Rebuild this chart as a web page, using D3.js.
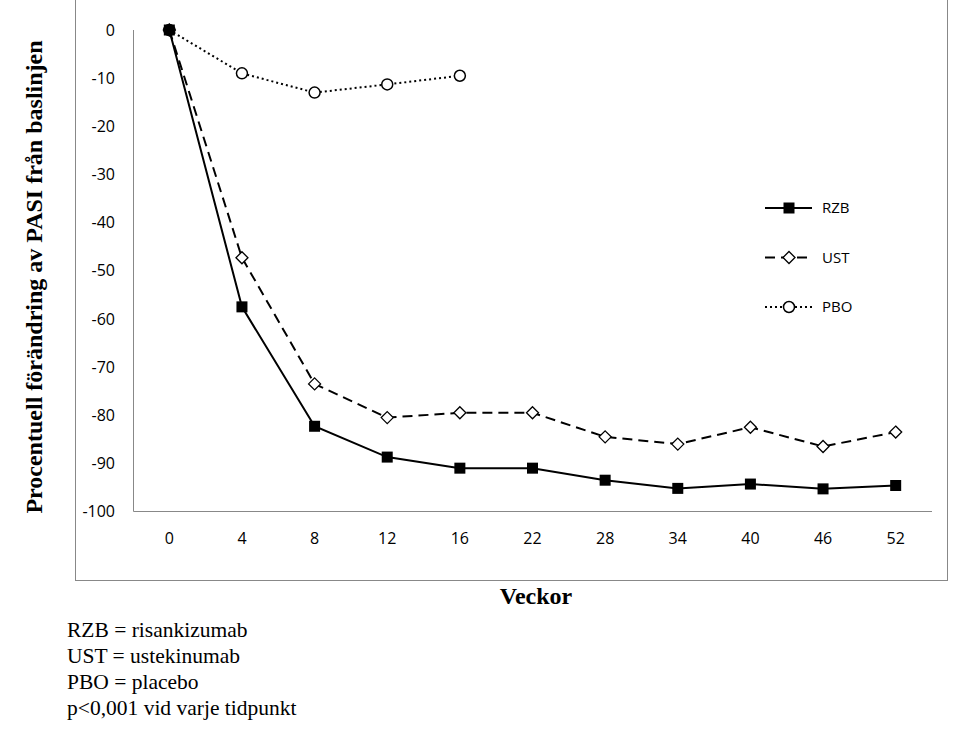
<!DOCTYPE html>
<html>
<head>
<meta charset="UTF-8">
<style>
  html, body { margin: 0; padding: 0; background: #fff; }
  svg { display: block; }
</style>
</head>
<body>
<svg width="971" height="733"></svg>
<script src="https://d3js.org/d3.v7.min.js"></script>
<script>
const weeks = ["0", "4", "8", "12", "16", "22", "28", "34", "40", "46", "52"];
const rzb = [0, -57.5, -82.3, -88.7, -91, -91, -93.5, -95.2, -94.3, -95.3, -94.6];
const ust = [0, -47.3, -73.5, -80.5, -79.5, -79.5, -84.5, -86, -82.5, -86.5, -83.5];
const pbo = [0, -9, -13, -11.3, -9.5];
const yTicks = d3.range(0, -101, -10);
const notes = ["RZB = risankizumab", "UST = ustekinumab", "PBO = placebo", "p<0,001 vid varje tidpunkt"];

const svg = d3.select("svg");
const tickFont = "'Open Sans', 'Liberation Sans', sans-serif";
const serif = "'Liberation Serif', 'Times New Roman', serif";

// outer frame
svg.append("rect").attr("x", 75.5).attr("y", -1).attr("width", 872).attr("height", 581.5)
  .attr("fill", "none").attr("stroke", "#888");

const x = d3.scalePoint().domain(weeks).range([133, 932]).padding(0.5);
const y = d3.scaleLinear().domain([-100, 0]).range([511.5, 30]);

// axis lines
svg.append("line").attr("x1", 133.5).attr("x2", 133.5).attr("y1", 30).attr("y2", 511.5).attr("stroke", "#888");
svg.append("line").attr("x1", 133.5).attr("x2", 932).attr("y1", 511.5).attr("y2", 511.5).attr("stroke", "#888");

svg.selectAll(".yt").data(yTicks).enter().append("text")
  .attr("x", 115).attr("y", d => y(d)).attr("dy", "0.35em").attr("text-anchor", "end")
  .attr("font-family", tickFont).attr("font-size", 16).text(d => d);
svg.selectAll(".xt").data(weeks).enter().append("text")
  .attr("x", d => x(d)).attr("y", 544).attr("text-anchor", "middle")
  .attr("font-family", tickFont).attr("font-size", 16).text(d => d);

svg.append("text").attr("x", 536).attr("y", 604).attr("text-anchor", "middle")
  .attr("font-family", serif).attr("font-weight", "bold").attr("font-size", 24).text("Veckor");
svg.append("text").attr("transform", "translate(42,277) rotate(-90)").attr("text-anchor", "middle")
  .attr("font-family", serif).attr("font-weight", "bold").attr("font-size", 24)
  .text("Procentuell förändring av PASI från baslinjen");

const series = [
  { name: "RZB", values: rzb, dash: null, marker: "square" },
  { name: "UST", values: ust, dash: "10,6", marker: "diamond" },
  { name: "PBO", values: pbo, dash: "2,3", marker: "circle" }
];

function drawMarker(g, type, cx, cy) {
  if (type === "square") {
    g.append("rect").attr("x", cx - 5.5).attr("y", cy - 5.5).attr("width", 11).attr("height", 11).attr("fill", "#000");
  } else if (type === "diamond") {
    g.append("path").attr("d", `M${cx},${cy - 6}L${cx + 6},${cy}L${cx},${cy + 6}L${cx - 6},${cy}Z`)
      .attr("fill", "#fff").attr("stroke", "#000").attr("stroke-width", 1.3);
  } else {
    g.append("circle").attr("cx", cx).attr("cy", cy).attr("r", 5.5)
      .attr("fill", "#fff").attr("stroke", "#000").attr("stroke-width", 1.5);
  }
}

const line = d3.line().x((d, i) => x(weeks[i])).y(d => y(d));
series.slice().reverse().forEach(s => {
  svg.append("path").datum(s.values).attr("d", line).attr("fill", "none")
    .attr("stroke", "#000").attr("stroke-width", 2).attr("stroke-dasharray", s.dash);
  const g = svg.append("g");
  s.values.forEach((v, i) => drawMarker(g, s.marker, x(weeks[i]), y(v)));
});

// legend
series.forEach((s, i) => {
  const ly = 208 + i * 49.5;
  svg.append("line").attr("x1", 765).attr("x2", 812).attr("y1", ly).attr("y2", ly)
    .attr("stroke", "#000").attr("stroke-width", 2).attr("stroke-dasharray", s.dash);
  drawMarker(svg.append("g"), s.marker, 789, ly);
  svg.append("text").attr("x", 822).attr("y", ly).attr("dy", "0.35em")
    .attr("font-family", tickFont).attr("font-size", 15).text(s.name);
});

svg.selectAll(".note").data(notes).enter().append("text")
  .attr("x", 67).attr("y", (d, i) => 637 + i * 26)
  .attr("font-family", serif).attr("font-size", 21.5).text(d => d);
</script>
</body>
</html>
